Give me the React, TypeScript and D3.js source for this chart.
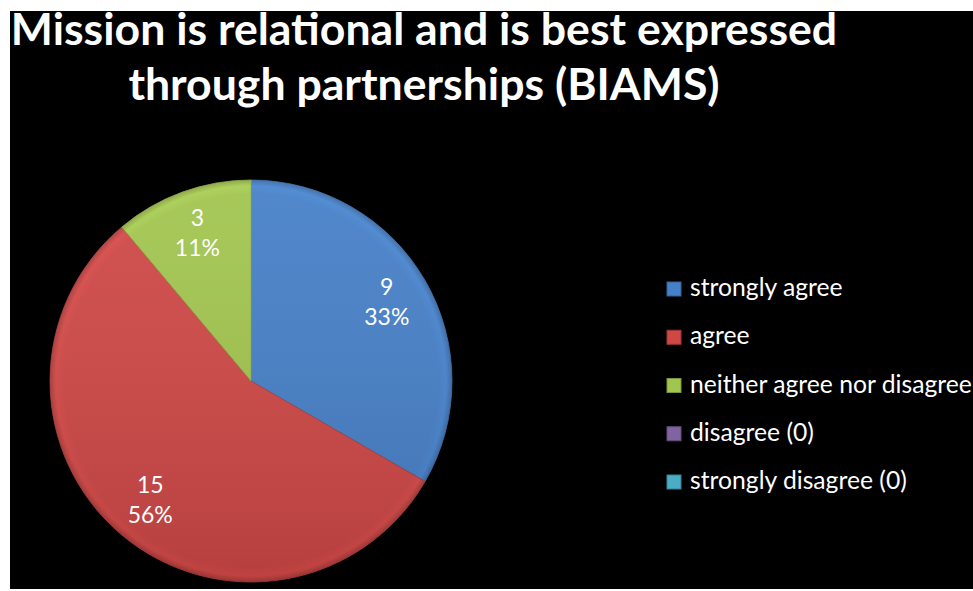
import React from "react";
import * as d3 from "d3";

const categories = [
  "strongly agree",
  "agree",
  "neither agree nor disagree",
  "disagree (0)",
  "strongly disagree (0)",
];
const values = [9, 15, 3, 0, 0];
const colors = ["#4680c8", "#cf4846", "#a2c54f", "#8064a2", "#4bacc6"];
const titleLines = [
  "Mission is relational and is best expressed",
  "through partnerships (BIAMS)",
];

const W = 973;
const H = 591;
const cx = 251;
const cy = 381;
const R = 201;

export default function App() {
  const total = d3.sum(values);
  const pie = d3
    .pie<number>()
    .sort(null)
    .value((d) => d);
  const arcs = pie(values);
  const arc = d3.arc<d3.PieArcDatum<number>>().innerRadius(0).outerRadius(R);
  const labelArc = d3
    .arc<d3.PieArcDatum<number>>()
    .innerRadius(R * 0.78)
    .outerRadius(R * 0.78);
  const legendY = d3
    .scalePoint<string>()
    .domain(categories)
    .range([289, 482]);

  return (
    <svg
      width={W}
      height={H}
      style={{ position: "absolute", left: 0, top: 0, background: "#fff" }}
      fontFamily="Lato, 'Open Sans', sans-serif"
    >
      <defs>
        {colors.map((c, i) => (
          <radialGradient
            key={i}
            id={`g${i}`}
            gradientUnits="userSpaceOnUse"
            cx={0}
            cy={0}
            r={R}
          >
            <stop offset="0%" stopColor={c} />
            <stop offset="93%" stopColor={c} />
            <stop offset="97%" stopColor={d3.color(c)!.brighter(0.12).toString()} />
            <stop offset="100%" stopColor={d3.color(c)!.darker(0.5).toString()} />
          </radialGradient>
        ))}
        <linearGradient id="shade" x1="0" y1="0" x2="0" y2="1">
          <stop offset="0%" stopColor="#fff" stopOpacity={0.06} />
          <stop offset="100%" stopColor="#000" stopOpacity={0.12} />
        </linearGradient>
      </defs>
      <rect x={10} y={11} width={W - 10} height={578} fill="#000" />
      {titleLines.map((t, i) => (
        <text
          key={i}
          x={424}
          y={45 + i * 55}
          textAnchor="middle"
          fill="#fff"
          fontWeight="bold"
          fontSize={44.6}
        >
          {t}
        </text>
      ))}
      <g transform={`translate(${cx},${cy})`}>
        {arcs.map((a, i) =>
          a.value > 0 ? (
            <path
              key={i}
              d={arc(a) || ""}
              fill={`url(#g${i})`}
              stroke={d3.color(colors[i])!.darker(0.4).toString()}
              strokeWidth={0.8}
            />
          ) : null
        )}
        <circle r={R} fill="url(#shade)" />
        {arcs.map((a, i) => {
          if (a.value <= 0) return null;
          const [lx, ly] = labelArc.centroid(a);
          const pct = Math.round((a.value / total) * 100);
          return (
            <text
              key={i}
              transform={`translate(${lx},${ly})`}
              textAnchor="middle"
              fill="#fff"
              fontSize={23}
            >
              <tspan x={0} y={-8}>
                {a.value}
              </tspan>
              <tspan x={0} y={22}>
                {pct}%
              </tspan>
            </text>
          );
        })}
      </g>
      <g>
        {categories.map((c, i) => {
          const y = legendY(c)!;
          return (
            <g key={c}>
              <rect
                x={667}
                y={y - 7}
                width={14}
                height={14}
                fill={colors[i]}
                stroke={d3.color(colors[i])!.darker(0.8).toString()}
                strokeWidth={1}
              />
              <text x={690} y={y + 7} fill="#fff" fontSize={24.7}>
                {c}
              </text>
            </g>
          );
        })}
      </g>
    </svg>
  );
}
